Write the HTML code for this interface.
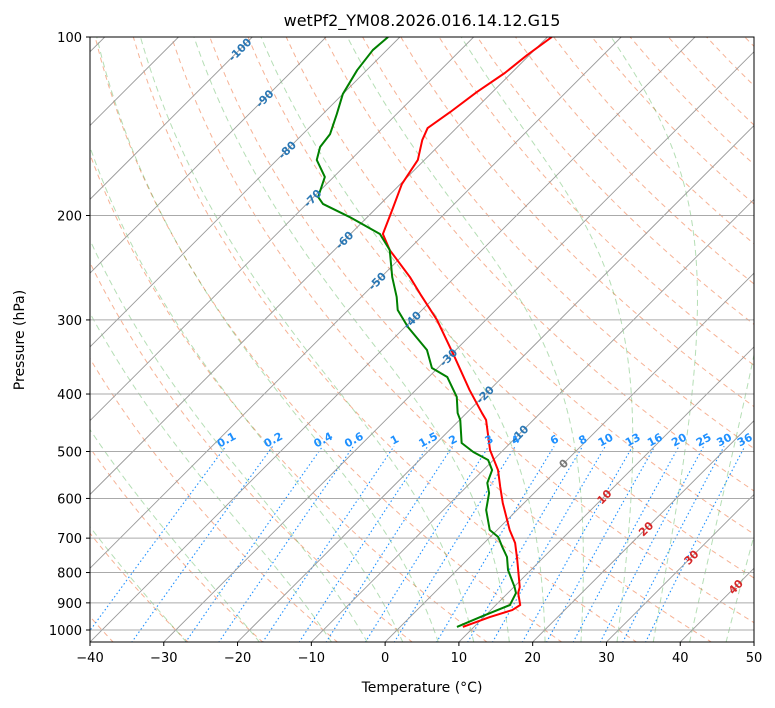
<!DOCTYPE html>
<html><head><meta charset="utf-8"><style>
html,body{margin:0;padding:0;background:#fff;}
svg{display:block;font-family:"DejaVu Sans","Liberation Sans",sans-serif;}
</style></head><body>
<svg id="chart" width="775" height="708" viewBox="0 0 775 708" xmlns="http://www.w3.org/2000/svg">
<defs><clipPath id="plotclip"><rect x="90" y="37" width="664" height="605"/></clipPath></defs>
<rect x="0" y="0" width="775" height="708" fill="#fff"/>
<g id="bg" clip-path="url(#plotclip)"></g>
<g id="series" clip-path="url(#plotclip)"></g>
<g id="labels"></g>
<rect x="90" y="37" width="664" height="605" fill="none" stroke="#000" stroke-width="1"/>
<g id="axes"></g>
<text x="422" y="26" text-anchor="middle" font-size="16">wetPf2_YM08.2026.016.14.12.G15</text>
<text x="422" y="692" text-anchor="middle" font-size="14">Temperature (°C)</text>
<text x="24" y="340" text-anchor="middle" font-size="14" transform="rotate(-90 24 340)">Pressure (hPa)</text>
</svg>
<script>
// ---- data ----
const tempP = [100,107.2,115,123.8,133.8,142.4,149.2,161.2,177,195.7,214.9,228.7,254,271.3,300.1,346.5,393.9,430.7,442.5,497.2,537.4,574,610.6,678.2,713.3,762.1,846.4,866.3,907.6,925.5,950.9,988.3];
const tempT = [-59.4,-60.3,-60.9,-62.1,-63.0,-63.9,-63.0,-60.9,-59.8,-57.6,-55.6,-52.5,-46.1,-42.4,-36.6,-29.2,-22.7,-17.9,-16.4,-11.8,-8.0,-5.4,-2.9,1.7,4.2,6.8,10.8,11.4,13.3,12.9,10.8,8.5];
const dewP = [100,105.2,113.7,124.8,134.9,145.8,153.3,161.2,172.2,186.1,191.2,201.2,214.9,228.7,254,274.4,288.6,308.4,337.2,361.5,374.4,404.6,430.7,442.5,483.8,501,516.9,537.4,565.1,587.5,627.5,678.2,696.9,724.4,753.2,792.2,846.4,866.3,907.6,950.9,988.3];
const dewT = [-81.6,-81.9,-81.3,-80.0,-78.1,-76.3,-75.9,-74.6,-71.2,-69.4,-67.8,-62.4,-56.0,-52.5,-48.5,-45.2,-43.3,-39.6,-33.9,-30.8,-27.5,-23.5,-21.2,-19.9,-16.6,-13.8,-10.7,-8.8,-7.7,-6.1,-4.2,-1.0,1.1,3.0,5.0,6.9,10.1,11.1,11.9,9.5,7.7];
const xTicks = [-40,-30,-20,-10,0,10,20,30,40,50];
const pTicks = [100,200,300,400,500,600,700,800,900,1000];
const isoLabelT = [-100,-90,-80,-70,-60,-50,-40,-30,-20,-10,0,10,20,30,40];
const isoLabelP = [105,127,155,187,220,258,300,347,401,467,524,596,675,754,845];
const mixRatios = [0.1,0.2,0.4,0.6,1,1.5,2,3,4,6,8,10,13,16,20,25,30,36];
const mixLabels = ["0.1","0.2","0.4","0.6","1","1.5","2","3","4","6","8","10","13","16","20","25","30","36"];
const moistT0 = [-30,-20,-10,-5,0,5,10,15,20,25,30,35,40,45];
// ---- axis functions ----
const NS="http://www.w3.org/2000/svg";
function yOf(p){return 37+593*Math.log10(p/100);}
function xOf(T,p){return 90+(T+40)*7.378+(642-yOf(p));}
function mk(tag,attrs,parent){const e=document.createElementNS(NS,tag);for(const k in attrs)e.setAttribute(k,attrs[k]);parent.appendChild(e);return e;}
const bg=document.getElementById('bg'),ser=document.getElementById('series'),lab=document.getElementById('labels'),ax=document.getElementById('axes');
function pathFrom(ps,ts){let d='';for(let i=0;i<ps.length;i++){d+=(i?'L':'M')+xOf(ts[i],ps[i]).toFixed(2)+','+yOf(ps[i]).toFixed(2);}return d;}
// dry adiabats
for(let th=-60;th<=220;th+=10){const ps=[],ts=[];for(let p=1050;p>=100;p-=10){ps.push(p);ts.push((th+273.15)*Math.pow(p/1000,0.2857)-273.15);}
 const e=mk('path',{d:pathFrom(ps,ts),fill:'none',stroke:'#f4a582',opacity:'0.85','stroke-width':'1','stroke-dasharray':'5,4'},bg);
 
 }
// moist adiabats
function es(Tc){return 6.112*Math.exp(17.67*Tc/(Tc+243.5));}
function dTdp(T,p){const Tc=T-273.15;const e=es(Tc);const rs=0.622*e/(p-e);return (287.04*T+2.501e6*rs)/(1005.7+2.501e6*2.501e6*rs*0.622/(287.04*T*T))/p;}
moistT0.forEach(t0=>{let up=[],ut=[];let T=t0+273.15;for(let p=1000;p>=100;p-=2){up.push(p);ut.push(T-273.15);T-=dTdp(T,p)*2;}
 let dn=[],dt=[];T=t0+273.15;for(let p=1000;p<=1050;p+=2){dn.push(p);dt.push(T-273.15);T+=dTdp(T,p)*2;}
 const ps=dn.reverse().concat(up),ts=dt.reverse().concat(ut);
 const e=mk('path',{d:pathFrom(ps,ts),fill:'none',stroke:'#2ca02c',opacity:'0.35','stroke-width':'1','stroke-dasharray':'6,4'},bg);
 
 });
// mixing ratio lines
function tdFromW(w,p){const e=w*p/(622+w);const l=Math.log(e/6.112);return 243.5*l/(17.67-l);}
mixRatios.forEach((w,i)=>{const ps=[],ts=[];for(let p=1050;p>=490;p-=10){ps.push(p);ts.push(tdFromW(w,p));}
 const e=mk('path',{d:pathFrom(ps,ts),fill:'none',stroke:'#1e90ff','stroke-width':'1.1','stroke-dasharray':'1.5,2.5'},bg);
 
 
 const x=xOf(tdFromW(w,484),484),y=yOf(484);
 const t=mk('text',{x:x,y:y,'font-size':'11','font-weight':'bold',fill:'#1e90ff','text-anchor':'middle',transform:'rotate(-28 '+x+' '+y+')'},lab);
 t.textContent=mixLabels[i];
 
 });
// isotherms
for(let T=-160;T<=50;T+=10){const e=mk('line',{x1:xOf(T,1050),y1:yOf(1050),x2:xOf(T,100),y2:yOf(100),stroke:'#999','stroke-width':'0.9'},bg);
 
 }
// isobars
pTicks.forEach(p=>{const e=mk('line',{x1:90,x2:754,y1:yOf(p),y2:yOf(p),stroke:'#aaa','stroke-width':'1'},bg);
 
 });
// isotherm labels
isoLabelT.forEach((T,i)=>{const p=isoLabelP[i];const x=xOf(T,p),y=yOf(p)+4;const col=T<0?'#2a77b4':(T===0?'#777':'#d62728');
 const t=mk('text',{x:x,y:y,'font-size':'11','font-weight':'bold',fill:col,'text-anchor':'middle',transform:'rotate(-45 '+x+' '+(y-4)+')'},lab);
 t.textContent=T;
 
 });
// profiles
const tl=mk('path',{d:pathFrom(tempP,tempT),fill:'none',stroke:'#ff0000','stroke-width':'2','stroke-linejoin':'round'},ser);


const dl=mk('path',{d:pathFrom(dewP,dewT),fill:'none',stroke:'#008000','stroke-width':'2','stroke-linejoin':'round'},ser);


// axes ticks
xTicks.forEach(T=>{const x=90+(T+40)*7.378;
 mk('line',{x1:x,x2:x,y1:642,y2:646,stroke:'#000'},ax);
 const t=mk('text',{x:x,y:662,'font-size':'13','text-anchor':'middle'},ax);
 t.textContent=(T<0?'\u2212':'')+Math.abs(T);
 
 });
pTicks.forEach(p=>{const y=yOf(p);
 mk('line',{x1:86,x2:90,y1:y,y2:y,stroke:'#000'},ax);
 const t=mk('text',{x:82,y:y+5,'font-size':'13','text-anchor':'end'},ax);
 t.textContent=p;
 
 });
</script>
</body></html>
